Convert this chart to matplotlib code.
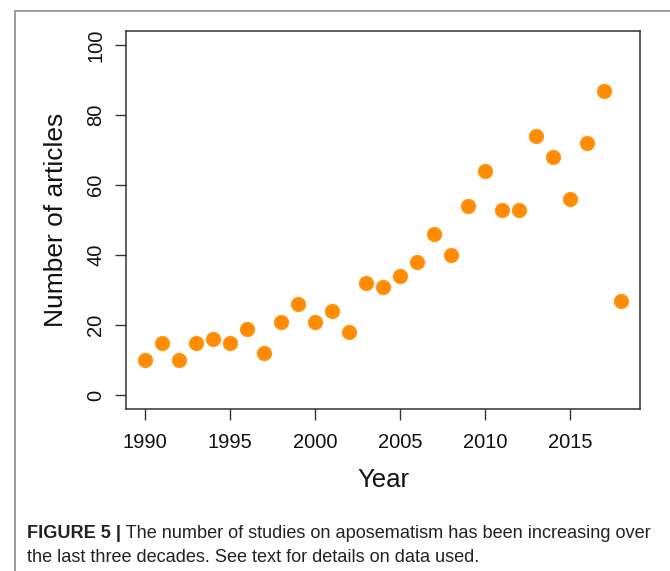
import matplotlib
matplotlib.use("Agg")
import matplotlib.pyplot as plt
from matplotlib.patches import Rectangle
from matplotlib import font_manager

years = list(range(1990, 2019))
articles = [10, 15, 10, 15, 16, 15, 19, 12, 21, 26, 21, 24, 18, 32, 31, 34,
            38, 46, 40, 54, 64, 53, 53, 74, 68, 56, 72, 87, 27]
xticks = [1990, 1995, 2000, 2005, 2010, 2015]
yticks = [0, 20, 40, 60, 80, 100]
caption_bold = 'FIGURE 5 |'
caption_line1 = ' The number of studies on aposematism has been increasing over'
caption_line2 = 'the last three decades. See text for details on data used.'

plt.rcParams['font.family'] = ['Liberation Sans', 'DejaVu Sans']
names = {f.name for f in font_manager.fontManager.ttflist}
cap_family = ['Liberation Sans Narrow', 'Liberation Sans'] if 'Liberation Sans Narrow' in names else ['Liberation Sans']

W, H = 670, 571
fig = plt.figure(figsize=(W / 100, H / 100), dpi=100)

# outer frame
fig.patches.append(Rectangle((15 / W, -0.1), 1.2, 1 - 11 / H + 0.1,
                             transform=fig.transFigure, fill=False,
                             edgecolor='#8a8a8a', linewidth=1.2))

ax = fig.add_axes([126 / W, 1 - 409 / H, (640 - 126) / W, (409 - 31) / H])
ax.scatter(years, articles, s=105, color='#FF8C00', edgecolors='#FF9A20',
           linewidths=0.8, zorder=3)
ax.set_xlim(1990 - 28 * 0.04, 2018 + 28 * 0.04)
ax.set_ylim(-4, 104)
ax.set_xticks(xticks)
ax.set_yticks(yticks)
ax.set_yticklabels([str(v) for v in yticks], rotation=90, va='center')
ax.tick_params(axis='both', length=8, width=1, labelsize=14.5, color='#333333',
               labelcolor='#111111')
ax.tick_params(axis='x', pad=9)
ax.tick_params(axis='y', pad=7)
for sp in ax.spines.values():
    sp.set_linewidth(1.1)
    sp.set_color('#333333')
ax.set_xlabel('Year', fontsize=18.5, labelpad=12, color='#111111')
ax.set_ylabel('Number of articles', fontsize=19, labelpad=13, color='#111111')

# caption
fs = 12.5
t1 = fig.text(27 / W, 1 - 533 / H, caption_bold, fontsize=fs, fontweight='bold',
              va='center', ha='left', color='#222222', family=cap_family)
t2 = fig.text(0, 0, caption_line1, fontsize=fs, va='center', ha='left',
              color='#222222', family=cap_family)
fig.canvas.draw()
r = fig.canvas.get_renderer()
total = t1.get_window_extent(r).width + t2.get_window_extent(r).width
fs = fs * 628 / total
t1.set_fontsize(fs)
t2.set_fontsize(fs)
fig.canvas.draw()
b1 = t1.get_window_extent(r)
t2.set_position((b1.x1 / W, 1 - 533 / H))
fig.text(27 / W, 1 - 557 / H, caption_line2, fontsize=fs, va='center', ha='left',
         color='#222222', family=cap_family)

fig.savefig('out.png', dpi=100)
